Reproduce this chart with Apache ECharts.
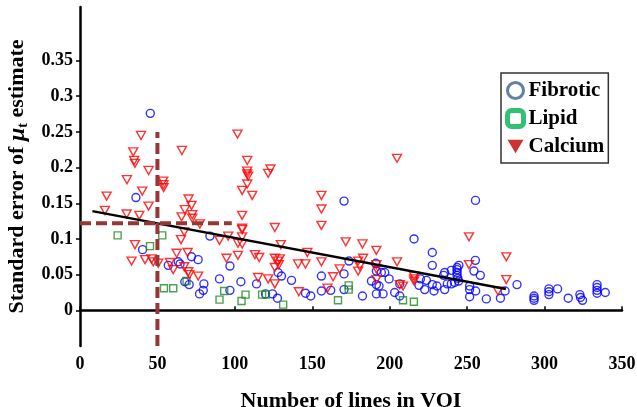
<!DOCTYPE html>
<html>
<head>
<meta charset="utf-8">
<script src="https://cdn.jsdelivr.net/npm/echarts@6/dist/echarts.min.js"></script>
<style>
  html, body { margin: 0; padding: 0; background: #fff; }
  #chart { width: 637px; height: 407px; }
</style>
</head>
<body>
<div id="chart"></div>
<script>
// values: [lines in VOI, standard error]
const fibrotic = [
  [45.4, 0.276], [36.1, 0.158], [40.4, 0.085], [83.9, 0.104], [57, 0.063], [63.4, 0.068], [64.6, 0.065],
  [72, 0.075], [76.3, 0.071], [67.7, 0.040], [70.5, 0.036], [80, 0.037], [79.6, 0.028], [77.2, 0.023],
  [90.1, 0.044], [96.8, 0.062], [96.8, 0.028], [103.9, 0.040], [114, 0.037], [119.8, 0.023], [124.3, 0.023],
  [127.5, 0.017], [127.9, 0.053], [130.1, 0.048], [136.6, 0.042], [145.6, 0.024], [149, 0.020], [155.9, 0.048],
  [155.9, 0.027], [161.9, 0.028], [170.5, 0.153], [170.5, 0.051], [170.5, 0.029], [173.7, 0.069], [182.4, 0.020],
  [188.2, 0.041], [191.4, 0.036], [191, 0.066], [191.4, 0.055], [193.1, 0.034], [191.4, 0.023], [195.7, 0.023],
  [194.6, 0.053], [196.8, 0.053], [199.6, 0.044], [203.2, 0.025], [206.5, 0.020], [206.5, 0.037], [215.7, 0.100],
  [219.8, 0.044], [218.9, 0.035], [222.6, 0.029], [223.7, 0.042], [227.5, 0.081], [227.5, 0.063], [227.5, 0.036],
  [228.6, 0.027], [230.5, 0.034], [235.5, 0.053], [234.8, 0.049], [235.5, 0.029], [237.2, 0.037], [239.8, 0.037],
  [239.8, 0.056], [243.5, 0.060], [243.5, 0.057], [243.5, 0.053], [243.5, 0.049], [244, 0.045], [244.5, 0.041],
  [244.7, 0.063], [241.9, 0.039], [251.6, 0.034], [251.6, 0.029], [251.6, 0.019], [254.4, 0.055], [255.3, 0.070],
  [255.5, 0.027], [255.4, 0.154], [258.5, 0.049], [262.4, 0.016], [271.5, 0.017], [274.5, 0.027], [282.2, 0.036],
  [293.2, 0.020], [293.2, 0.017], [293.2, 0.014], [302.8, 0.030], [302.8, 0.026], [302.8, 0.022], [308.4, 0.030],
  [315.3, 0.017], [322.8, 0.022], [323.2, 0.018], [324.5, 0.014], [333.9, 0.036], [333.9, 0.032], [333.9, 0.028],
  [333.9, 0.024], [339.2, 0.025]
];
const lipid = [
  [24.3, 0.105], [45.2, 0.090], [53.1, 0.105], [54.2, 0.031], [60.2, 0.031], [68.8, 0.041], [93.1, 0.027],
  [90.1, 0.015], [104.3, 0.013], [106.9, 0.022], [117.6, 0.022], [120, 0.022], [131.2, 0.008], [166.6, 0.014],
  [173.5, 0.035], [173.5, 0.029], [208.6, 0.014], [215.6, 0.012]
];
const calcium = [
  [17.2, 0.160], [16.1, 0.140], [30.1, 0.135], [38.3, 0.133], [40.2, 0.167], [44.3, 0.146], [53.7, 0.181],
  [53.9, 0.176], [54, 0.172], [35.5, 0.092], [33.3, 0.069], [42, 0.071], [46.2, 0.072], [47.3, 0.068],
  [50.5, 0.066], [39.4, 0.245], [34.4, 0.222], [35, 0.210], [35.5, 0.206], [44.3, 0.196], [30.3, 0.183],
  [65.8, 0.224], [70.1, 0.156], [72, 0.147], [67.7, 0.141], [65.6, 0.131], [72.5, 0.134], [72.5, 0.129],
  [77.4, 0.121], [67.3, 0.110], [65.2, 0.099], [62.4, 0.080], [69.5, 0.081], [58.1, 0.067], [60.2, 0.057],
  [67.3, 0.061], [69.9, 0.054], [70.6, 0.050], [76.3, 0.048], [90.1, 0.098], [94.6, 0.073], [101.7, 0.247],
  [108, 0.210], [108, 0.195], [108, 0.191], [108.6, 0.188], [108, 0.177], [104.7, 0.168], [111.2, 0.161],
  [123, 0.198], [121.5, 0.192], [155.9, 0.161], [155.9, 0.142], [155.9, 0.119], [104.7, 0.133], [104.7, 0.115],
  [125.8, 0.116], [95.7, 0.104], [104.7, 0.113], [104.7, 0.103], [102, 0.094], [104.7, 0.093], [129.7, 0.092],
  [102, 0.077], [113, 0.078], [115.7, 0.074], [125.8, 0.073], [129, 0.072], [127.8, 0.069], [125.8, 0.060],
  [128.4, 0.064], [140.8, 0.065], [145.6, 0.065], [146.8, 0.081], [155.9, 0.068], [171.6, 0.096], [182.4, 0.093],
  [191.4, 0.084], [163.4, 0.047], [167.7, 0.058], [179.6, 0.069], [180.6, 0.062], [179.6, 0.055], [182.8, 0.073],
  [191.4, 0.058], [191.4, 0.043], [115, 0.046], [121.5, 0.044], [125.8, 0.037], [141.3, 0.026], [159.8, 0.031],
  [204.7, 0.213], [204.7, 0.068], [206.5, 0.036], [208.6, 0.034], [215.7, 0.048], [215.7, 0.044], [215.7, 0.041],
  [251.2, 0.103], [251.2, 0.064], [275.3, 0.075], [275.3, 0.043], [269.9, 0.027], [191.4, 0.064]
];
// regression fit and the two threshold guides
const fitLine = [[8, 0.139], [275, 0.030]];
const vGuide = [[50, -0.05], [50, 0.25]];
const hGuide = [[0, 0.122], [98, 0.122]];
const yTicks = [0, 0.05, 0.1, 0.15, 0.2, 0.25, 0.3, 0.35];

const font = 'Liberation Serif, Times New Roman, serif';
const chart = echarts.init(document.getElementById('chart'), null, { renderer: 'canvas' });

const downTri = 'path://M0,0 L20,0 L10,17 Z';

let option = {
  animation: false,
  backgroundColor: '#fff',
  grid: { left: 80, right: 15, top: 7, bottom: 61, containLabel: false, outerBoundsMode: 'none' },
  legend: {
    left: 501,
    top: 73,
    orient: 'vertical',
    padding: [7, 4, 6, 4],
    itemGap: 7,
    itemWidth: 16,
    itemHeight: 16,
    borderColor: '#333',
    borderWidth: 1.5,
    borderRadius: 0,
    backgroundColor: '#fff',
    textStyle: { fontFamily: font, fontWeight: 'bold', fontSize: 21, color: '#000' },
    data: [
      { name: 'Fibrotic', icon: 'circle', itemStyle: { color: '#fff', borderColor: '#3a6090', borderWidth: 3 } },
      { name: 'Lipid', icon: 'roundRect', itemStyle: { color: '#fff', borderColor: '#00b050', borderWidth: 5 } },
      { name: 'Calcium', icon: downTri, itemStyle: { color: '#c00000', borderWidth: 0 } }
    ]
  },
  xAxis: {
    type: 'value',
    min: 0,
    max: 350,
    interval: 50,
    name: 'Number of lines in VOI',
    nameLocation: 'middle',
    nameGap: 44,
    nameTextStyle: { fontFamily: font, fontWeight: 'bold', fontSize: 22, color: '#000' },
    axisLine: { show: true, lineStyle: { color: '#000', width: 2.5 } },
    axisTick: { show: true, inside: true, length: 4, lineStyle: { color: '#000', width: 1.5 } },
    axisLabel: { fontFamily: font, fontWeight: 'bold', fontSize: 18, color: '#000', margin: 9 },
    splitLine: { show: false }
  },
  yAxis: {
    type: 'value',
    min: -0.05,
    max: 0.425,
    interval: 0.05,
    name: '{a|Standard error of }{mu|μ}{sub|t}{a| estimate}',
    nameLocation: 'middle',
    nameRotate: 90,
    nameGap: 50,
    nameTextStyle: {
      rich: {
        a: { fontFamily: font, fontWeight: 'bold', fontSize: 22, color: '#000' },
        mu: { fontFamily: font, fontWeight: 'bold', fontStyle: 'italic', fontSize: 24, color: '#000' },
        sub: { fontFamily: font, fontWeight: 'bold', fontSize: 14, color: '#000', padding: [11, 0, 0, 0] }
      }
    },
    axisLine: { show: true, lineStyle: { color: '#000', width: 2.5 } },
    axisTick: { show: true, customValues: yTicks, inside: false, length: 4, lineStyle: { color: '#000', width: 1.5 } },
    axisLabel: { customValues: yTicks, fontFamily: font, fontWeight: 'bold', fontSize: 18, color: '#000', margin: 7 },
    splitLine: { show: false }
  },
  series: [
    {
      name: 'Fibrotic', type: 'scatter', data: fibrotic, symbol: 'circle', symbolSize: 8,
      itemStyle: { color: 'rgba(0,0,0,0)', borderColor: '#0000ff', borderWidth: 1.4 }
    },
    {
      name: 'Lipid', type: 'scatter', data: lipid, symbol: 'rect', symbolSize: 7,
      itemStyle: { color: 'rgba(0,0,0,0)', borderColor: '#1f8a1f', borderWidth: 1.4 }
    },
    {
      name: 'Calcium', type: 'scatter', data: calcium, symbol: 'triangle', symbolRotate: 180, symbolSize: [9, 8],
      itemStyle: { color: 'rgba(0,0,0,0)', borderColor: '#ff0000', borderWidth: 1.4 }
    },
    {
      type: 'line', data: fitLine, symbol: 'none', silent: true,
      lineStyle: { color: '#000', width: 2.5 }
    },
    {
      type: 'line', data: vGuide, symbol: 'none', silent: true,
      lineStyle: { color: '#953735', width: 4, type: [11, 5] }
    },
    {
      type: 'line', data: hGuide, symbol: 'none', silent: true,
      lineStyle: { color: '#953735', width: 4, type: [11, 5] }
    }
  ]
};

chart.setOption(option);
</script>
</body>
</html>
